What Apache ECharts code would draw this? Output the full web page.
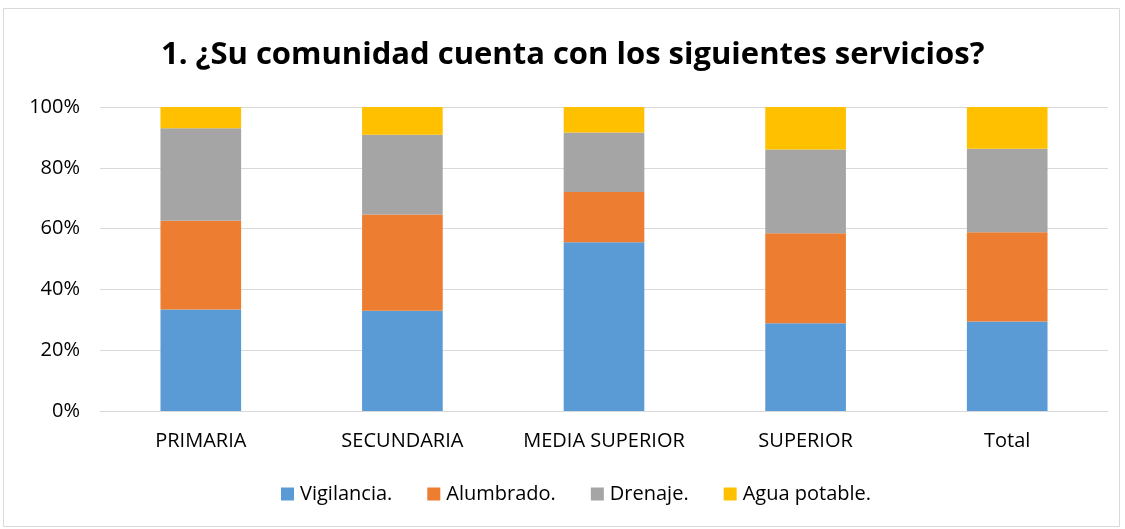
<!DOCTYPE html>
<html>
<head>
<meta charset="utf-8">
<script src="https://cdn.jsdelivr.net/npm/echarts@6/dist/echarts.min.js"></script>
<style>
  html, body { margin: 0; padding: 0; background: #fff; }
  #chart { width: 1125px; height: 529px; }
</style>
</head>
<body>
<div id="chart"></div>
<script>
// niveles educativos
var categories = ["PRIMARIA", "SECUNDARIA", "MEDIA SUPERIOR", "SUPERIOR", "Total"];
// porcentajes por servicio
var vigilancia = [33.4, 33.0, 55.5, 28.9, 29.4];
var alumbrado = [29.2, 31.6, 16.5, 29.6, 29.4];
var drenaje = [30.4, 26.3, 19.6, 27.5, 27.5];
var aguaPotable = [7.0, 9.1, 8.4, 14.0, 13.7];

var font = "Open Sans";

var myChart = echarts.init(document.getElementById("chart"));

function serie(name, data, color) {
  return {
    name: name,
    type: "bar",
    stack: "total",
    barWidth: "40%",
    itemStyle: { color: color },
    emphasis: { disabled: true },
    data: data
  };
}

var option = {
  animation: false,
  textStyle: { fontFamily: font },
  graphic: [{
    type: "rect",
    shape: { x: 3.5, y: 8.5, width: 1116, height: 518 },
    style: { fill: "none", stroke: "#d9d9d9", lineWidth: 1 },
    silent: true
  }],
  title: {
    text: "1. ¿Su comunidad cuenta con los siguientes servicios?",
    left: 156,
    top: 35,
    textStyle: { fontFamily: font, fontWeight: "bold", fontSize: 31, color: "#000" }
  },
  legend: {
    bottom: 20,
    left: 276,
    itemWidth: 13,
    itemHeight: 13,
    itemGap: 35,
    icon: "rect",
    textStyle: { fontFamily: font, fontSize: 20, color: "#000", padding: [0, 0, 0, 1] },
    data: ["Vigilancia.", "Alumbrado.", "Drenaje.", "Agua potable."]
  },
  grid: { left: 100, right: 17, top: 107, bottom: 118 },
  xAxis: {
    type: "category",
    data: categories,
    axisLine: { lineStyle: { color: "#d9d9d9", width: 1 } },
    axisTick: { show: false },
    axisLabel: { color: "#000", fontSize: 20, margin: 20, interval: 0 }
  },
  yAxis: {
    type: "value",
    min: 0,
    max: 100,
    interval: 20,
    axisLine: { show: false },
    axisTick: { show: false },
    axisLabel: { color: "#000", fontSize: 20, margin: 20, formatter: "{value}%" },
    splitLine: { lineStyle: { color: "#d9d9d9", width: 1 } }
  },
  series: [
    serie("Vigilancia.", vigilancia, "#5b9bd5"),
    serie("Alumbrado.", alumbrado, "#ed7d31"),
    serie("Drenaje.", drenaje, "#a5a5a5"),
    serie("Agua potable.", aguaPotable, "#ffc000")
  ]
};

myChart.setOption(option);
</script>
</body>
</html>
